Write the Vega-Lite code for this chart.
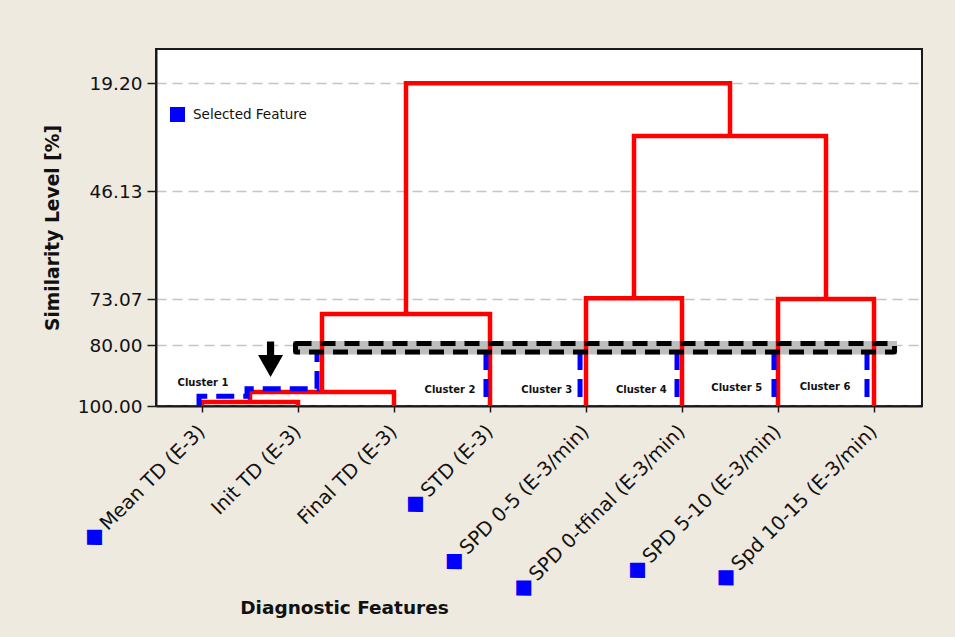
{
  "$schema": "https://vega.github.io/schema/vega-lite/v6.json",
  "width": 766,
  "height": 357,
  "autosize": "none",
  "padding": {"left": 156, "top": 49, "right": 33, "bottom": 231},
  "background": "#EEEAE0",
  "config": {
    "font": "DejaVu Sans",
    "view": {"fill": "white", "stroke": "#1a1a1a", "strokeWidth": 2},
    "axis": {
      "domainColor": "#1a1a1a",
      "domainWidth": 2,
      "tickColor": "#1a1a1a",
      "tickWidth": 1.5,
      "labelColor": "#111111",
      "titleColor": "#111111"
    }
  },
  "datasets": {
    "leaves": [
      {"x": 1, "name": "Mean TD (E-3)", "status": "Selected Feature"},
      {"x": 2, "name": "Init TD (E-3)", "status": "Other"},
      {"x": 3, "name": "Final TD (E-3)", "status": "Other"},
      {"x": 4, "name": "STD (E-3)", "status": "Selected Feature"},
      {"x": 5, "name": "SPD 0-5 (E-3/min)", "status": "Selected Feature"},
      {"x": 6, "name": "SPD 0-tfinal (E-3/min)", "status": "Selected Feature"},
      {"x": 7, "name": "SPD 5-10 (E-3/min)", "status": "Selected Feature"},
      {"x": 8, "name": "Spd 10-15 (E-3/min)", "status": "Selected Feature"}
    ],
    "links": [
      {"link": "L1", "ord": 1, "x": 1, "y": 100},
      {"link": "L1", "ord": 2, "x": 1, "y": 98.7},
      {"link": "L1", "ord": 3, "x": 2, "y": 98.7},
      {"link": "L1", "ord": 4, "x": 2, "y": 100},
      {"link": "L2", "ord": 1, "x": 1.5, "y": 98.7},
      {"link": "L2", "ord": 2, "x": 1.5, "y": 95.4},
      {"link": "L2", "ord": 3, "x": 3, "y": 95.4},
      {"link": "L2", "ord": 4, "x": 3, "y": 100},
      {"link": "L3", "ord": 1, "x": 2.25, "y": 95.4},
      {"link": "L3", "ord": 2, "x": 2.25, "y": 75.33},
      {"link": "L3", "ord": 3, "x": 4, "y": 75.33},
      {"link": "L3", "ord": 4, "x": 4, "y": 100},
      {"link": "L4", "ord": 1, "x": 5, "y": 100},
      {"link": "L4", "ord": 2, "x": 5, "y": 72.9},
      {"link": "L4", "ord": 3, "x": 6, "y": 72.9},
      {"link": "L4", "ord": 4, "x": 6, "y": 100},
      {"link": "L5", "ord": 1, "x": 7, "y": 100},
      {"link": "L5", "ord": 2, "x": 7, "y": 73.07},
      {"link": "L5", "ord": 3, "x": 8, "y": 73.07},
      {"link": "L5", "ord": 4, "x": 8, "y": 100},
      {"link": "L6", "ord": 1, "x": 5.5, "y": 72.9},
      {"link": "L6", "ord": 2, "x": 5.5, "y": 32.36},
      {"link": "L6", "ord": 3, "x": 7.5, "y": 32.36},
      {"link": "L6", "ord": 4, "x": 7.5, "y": 73.07},
      {"link": "L7", "ord": 1, "x": 3.125, "y": 75.33},
      {"link": "L7", "ord": 2, "x": 3.125, "y": 19.2},
      {"link": "L7", "ord": 3, "x": 6.5, "y": 19.2},
      {"link": "L7", "ord": 4, "x": 6.5, "y": 32.36}
    ],
    "clusterEdges": [
      {"seg": "c1", "ord": 1, "x": 0.969, "y": 100},
      {"seg": "c1", "ord": 2, "x": 0.969, "y": 96.8},
      {"seg": "c1", "ord": 3, "x": 1.469, "y": 96.8},
      {"seg": "c1", "ord": 4, "x": 1.469, "y": 94.33},
      {"seg": "c1", "ord": 5, "x": 2.198, "y": 94.33},
      {"seg": "c1", "ord": 6, "x": 2.198, "y": 82.3},
      {"seg": "c2", "ord": 1, "x": 3.958, "y": 82.3},
      {"seg": "c2", "ord": 2, "x": 3.958, "y": 97.1},
      {"seg": "c3", "ord": 1, "x": 4.938, "y": 82.3},
      {"seg": "c3", "ord": 2, "x": 4.938, "y": 97.1},
      {"seg": "c4", "ord": 1, "x": 5.948, "y": 82.3},
      {"seg": "c4", "ord": 2, "x": 5.948, "y": 97.1},
      {"seg": "c5", "ord": 1, "x": 6.958, "y": 82.3},
      {"seg": "c5", "ord": 2, "x": 6.958, "y": 97.1},
      {"seg": "c6", "ord": 1, "x": 7.927, "y": 82.3},
      {"seg": "c6", "ord": 2, "x": 7.927, "y": 97.1}
    ],
    "clusters": [
      {"label": "Cluster 1", "x": 1.01, "y": 92.5},
      {"label": "Cluster 2", "x": 3.583, "y": 94.8},
      {"label": "Cluster 3", "x": 4.591, "y": 94.8},
      {"label": "Cluster 4", "x": 5.576, "y": 94.8},
      {"label": "Cluster 5", "x": 6.57, "y": 94.2},
      {"label": "Cluster 6", "x": 7.49, "y": 93.8}
    ]
  },
  "layer": [
    {
      "data": {"values": [{"x": 1.948, "x2": 8.24, "y": 79.4, "y2": 83.1}]},
      "mark": {"type": "rect", "fill": "#BEBEBE", "stroke": null},
      "encoding": {
        "x": {"field": "x", "type": "quantitative"},
        "x2": {"field": "x2"},
        "y": {"field": "y", "type": "quantitative"},
        "y2": {"field": "y2"}
      }
    },
    {
      "data": {"name": "links"},
      "mark": {"type": "line", "color": "#FF0000", "strokeWidth": 4.5, "strokeJoin": "miter", "strokeCap": "butt"},
      "encoding": {
        "x": {
          "field": "x",
          "type": "quantitative",
          "title": "Diagnostic Features",
          "scale": {"domain": [0.5208, 8.5], "nice": false, "zero": false},
          "axis": {
            "values": [1, 2, 3, 4, 5, 6, 7, 8],
            "labels": false,
            "grid": false,
            "tickSize": 6,
            "titleFontSize": 18.5,
            "titleFontWeight": "bold",
            "titleX": 188,
            "titleY": 207,
            "titleAlign": "center",
            "titleBaseline": "alphabetic"
          }
        },
        "y": {
          "field": "y",
          "type": "quantitative",
          "title": "Similarity Level [%]",
          "scale": {"type": "linear", "domain": [10.63, 73.07, 80, 100], "range": [0, 250, 296, 357], "nice": false, "zero": false},
          "axis": {
            "values": [19.2, 46.13, 73.07, 80, 100],
            "format": ".2f",
            "labelFontSize": 18.5,
            "labelPadding": 5,
            "labelFlush": false,
            "labelOverlap": false,
            "tickSize": 9,
            "grid": true,
            "gridColor": "#C4C4C4",
            "gridDash": [10, 6],
            "gridWidth": 1.5,
            "titleFontSize": 18.7,
            "titleFontWeight": "bold",
            "titleAngle": -90,
            "titleX": -104,
            "titleY": 178.5,
            "titleAlign": "center",
            "titleBaseline": "middle"
          }
        },
        "detail": {"field": "link"},
        "order": {"field": "ord"}
      }
    },
    {
      "data": {"name": "clusterEdges"},
      "mark": {"type": "line", "color": "#0000FF", "strokeWidth": 5, "strokeDash": [18, 9], "strokeJoin": "miter"},
      "encoding": {
        "x": {"field": "x", "type": "quantitative"},
        "y": {"field": "y", "type": "quantitative"},
        "detail": {"field": "seg"},
        "order": {"field": "ord"}
      }
    },
    {
      "data": {"values": [{"x": 1.974, "x2": 8.214, "y": 79.77, "y2": 82.31}]},
      "mark": {"type": "rect", "fill": null, "fillOpacity": 0, "stroke": "#000000", "strokeWidth": 5, "strokeDash": [15, 9], "cornerRadius": 1},
      "encoding": {
        "x": {"field": "x", "type": "quantitative"},
        "x2": {"field": "x2"},
        "y": {"field": "y", "type": "quantitative"},
        "y2": {"field": "y2"}
      }
    },
    {
      "data": {"values": [{"x": 1.714, "y": 84.68}]},
      "mark": {
        "type": "point",
        "shape": "M-0.21,-1.04 L0.21,-1.04 L0.21,-0.245 L0.73,-0.245 L0,1.04 L-0.73,-0.245 L-0.21,-0.245 Z",
        "size": 1175,
        "filled": true,
        "color": "#000000",
        "opacity": 1,
        "strokeWidth": 0
      },
      "encoding": {
        "x": {"field": "x", "type": "quantitative"},
        "y": {"field": "y", "type": "quantitative"}
      }
    },
    {
      "data": {"name": "clusters"},
      "mark": {"type": "text", "fontSize": 10, "fontWeight": "bold", "color": "#111111", "align": "center", "baseline": "middle"},
      "encoding": {
        "x": {"field": "x", "type": "quantitative"},
        "y": {"field": "y", "type": "quantitative"},
        "text": {"field": "label"}
      }
    },
    {
      "data": {"name": "leaves"},
      "transform": [{"filter": "datum.status === 'Selected Feature'"}],
      "mark": {"type": "text", "text": {"expr": "'◆ ' + datum.name"}, "angle": -45, "align": "right", "baseline": "middle", "fontSize": 19.5, "yOffset": 22.5, "stroke": "#0000FF", "strokeWidth": 4.5, "strokeJoin": "miter", "strokeMiterLimit": 1.5},
      "encoding": {
        "x": {"field": "x", "type": "quantitative"},
        "y": {"datum": 100},
        "color": {
          "field": "status",
          "type": "nominal",
          "scale": {"domain": ["Selected Feature"], "range": ["#0000FF"]},
          "legend": {
            "title": null,
            "orient": "none",
            "legendX": 14,
            "legendY": 58,
            "padding": 0,
            "symbolType": "square",
            "symbolSize": 225,
            "symbolFillColor": "#0000FF",
            "symbolStrokeColor": "#0000FF",
            "symbolStrokeWidth": 0,
            "labelFontSize": 13.5,
            "labelColor": "#111111",
            "labelOffset": 8
          }
        }
      }
    },
    {
      "data": {"name": "leaves"},
      "mark": {"type": "text", "angle": -45, "align": "right", "baseline": "middle", "fontSize": 19.5, "yOffset": 22.5, "fill": "#EEEAE0", "stroke": "#EEEAE0", "strokeWidth": 7, "strokeJoin": "round"},
      "encoding": {
        "x": {"field": "x", "type": "quantitative"},
        "y": {"datum": 100},
        "text": {"field": "name"}
      }
    },
    {
      "data": {"name": "leaves"},
      "mark": {"type": "text", "angle": -45, "align": "right", "baseline": "middle", "fontSize": 19.5, "yOffset": 22.5, "color": "#111111"},
      "encoding": {
        "x": {"field": "x", "type": "quantitative"},
        "y": {"datum": 100},
        "text": {"field": "name"}
      }
    }
  ]
}
